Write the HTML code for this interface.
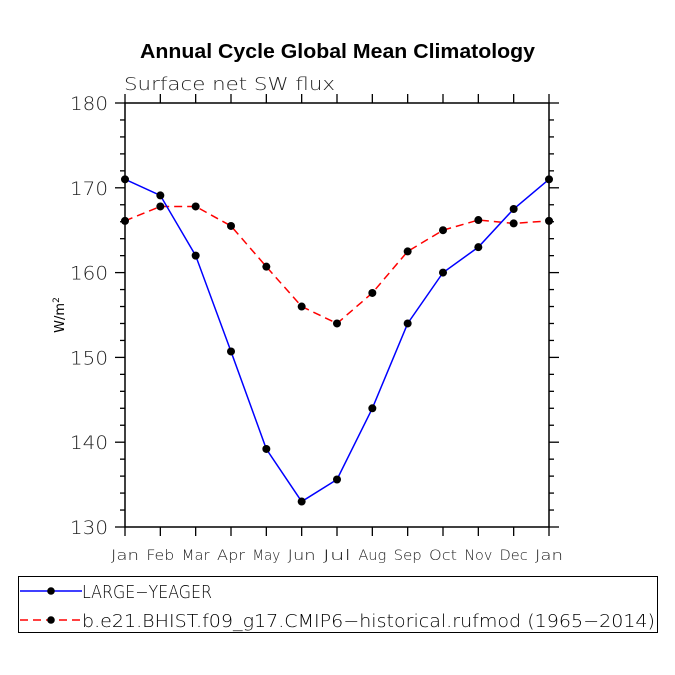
<!DOCTYPE html>
<html><head><meta charset="utf-8"><style>
html,body{margin:0;padding:0;background:#fff}
svg{display:block;font-family:"DejaVu Sans","Liberation Sans",sans-serif}
</style></head><body>
<svg id="chart" width="675" height="675" viewBox="0 0 675 675" xmlns="http://www.w3.org/2000/svg">
<text x="140" y="58" textLength="395" lengthAdjust="spacingAndGlyphs" font-family="Liberation Sans, sans-serif" font-weight="bold" font-size="20">Annual Cycle Global Mean Climatology</text>
<text x="124" y="90" textLength="211" lengthAdjust="spacingAndGlyphs" font-size="18" font-weight="300" fill="#222">Surface net SW flux</text>
<text transform="translate(64,315) rotate(-90)" text-anchor="middle" font-size="13">W/m<tspan dy="-5" font-size="9">2</tspan></text>
<g id="axes"></g>
<g id="series"></g>
<g>
<rect x="18.5" y="576.5" width="639" height="56" fill="none" stroke="#000" stroke-width="1"/>
<g>
<line x1="20" y1="591" x2="82" y2="591" stroke="#00f" stroke-width="1.5"/>
<circle cx="51" cy="591" r="3.8" fill="#000"/>
<text x="82" y="598" textLength="130" lengthAdjust="spacingAndGlyphs" font-size="18" font-weight="300">LARGE−YEAGER</text>
</g>
<g>
<line x1="20" y1="620" x2="82" y2="620" stroke="#f00" stroke-width="1.5" stroke-dasharray="8,5"/>
<circle cx="51" cy="620" r="3.8" fill="#000"/>
<text x="82" y="627" textLength="573" lengthAdjust="spacingAndGlyphs" font-size="18" font-weight="300">b.e21.BHIST.f09_g17.CMIP6−historical.rufmod (1965−2014)</text>
</g>
</g>
</svg>
<script>
const months = ["Jan","Feb","Mar","Apr","May","Jun","Jul","Aug","Sep","Oct","Nov","Dec","Jan"];
const largeYeager = [171.0,169.1,162.0,150.7,139.2,133.0,135.6,144.0,154.0,160.0,163.0,167.5,171.0];
const cmip6 = [166.1,167.8,167.8,165.5,160.7,156.0,154.0,157.6,162.5,165.0,166.2,165.8,166.1];
const yTicks = [130,140,150,160,170,180];
const yMin = 130, yMax = 180;
const L=125,R=549,T=103,B=527;
const NS="http://www.w3.org/2000/svg";
const xs = i => L + i*(R-L)/(months.length-1);
const ys = v => B - (v-yMin)/(yMax-yMin)*(B-T);
function mk(tag, attrs, parent){const e=document.createElementNS(NS,tag);for(const k in attrs)e.setAttribute(k,attrs[k]);parent.appendChild(e);return e;}
const ax=document.getElementById('axes');
const frame=mk('rect',{x:L,y:T,width:R-L,height:B-T,fill:'none',stroke:'#000','stroke-width':1.5},ax);


for(let v=yMin; v<=yMax; v+=2){
  const y=ys(v); const major=(v-yMin)%10===0; const len=major?10:5;
  const t1=mk('line',{x1:L-len,y1:y,x2:L,y2:y,stroke:'#000','stroke-width':1.3},ax);
  
  
  const t2=mk('line',{x1:R,y1:y,x2:R+len,y2:y,stroke:'#000','stroke-width':1.3},ax);
  
  
}
yTicks.forEach(v=>{
  const t=mk('text',{x:L-17,y:ys(v)+7,'text-anchor':'end','font-size':19,'font-weight':300,fill:'#222',textLength:38,lengthAdjust:'spacingAndGlyphs'},ax);
  t.textContent=v;
  
  
});
months.forEach((m,i)=>{
  const x=xs(i);
  const a=mk('line',{x1:x,y1:B,x2:x,y2:B+9,stroke:'#000','stroke-width':1.3},ax);
  
  
  const b=mk('line',{x1:x,y1:T-9,x2:x,y2:T,stroke:'#000','stroke-width':1.3},ax);
  
  
  const t=mk('text',{x:x-14,y:B+33,'font-size':14,'font-weight':300,fill:'#222',textLength:28,lengthAdjust:'spacingAndGlyphs'},ax);
  t.textContent=m;
  
  
});
const sg=document.getElementById('series');
function draw(vals,color,dash,name){
  const pts=vals.map((v,i)=>xs(i)+','+ys(v)).join(' ');
  const pl=mk('polyline',{points:pts,fill:'none',stroke:color,'stroke-width':1.5},sg);
  if(dash) pl.setAttribute('stroke-dasharray',dash);
  
  
  vals.forEach((v,i)=>{
    const c=mk('circle',{cx:xs(i),cy:ys(v),r:4},sg);
    
    
  });
}
draw(cmip6,'#f00','8,5','cmip6');
draw(largeYeager,'#00f',null,'large-yeager');
</script>
</body></html>
